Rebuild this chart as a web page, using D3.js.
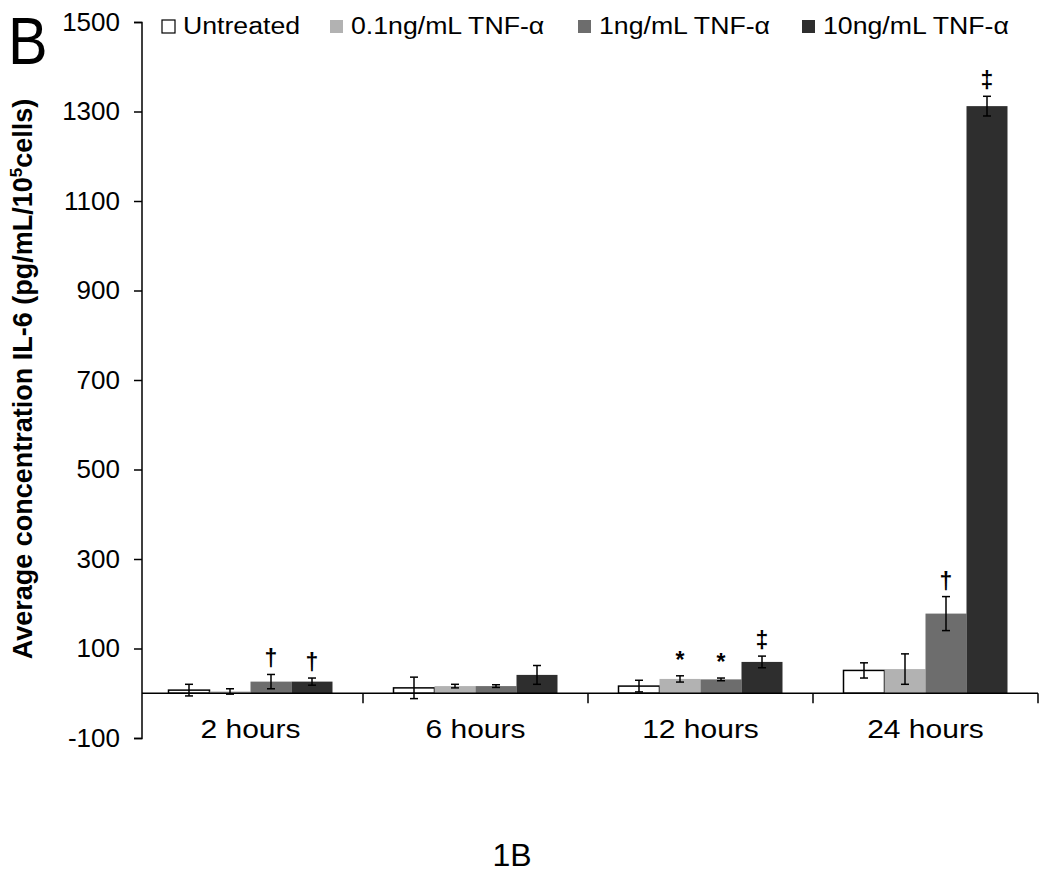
<!DOCTYPE html>
<html>
<head>
<meta charset="utf-8">
<script src="https://cdn.jsdelivr.net/npm/d3@7"></script>
<style>
  body { margin: 0; background: #fff; }
  text { font-family: "Liberation Sans", Arial, sans-serif; }
</style>
</head>
<body>
<div id="chart"></div>
<script>
const timepoints = ["2 hours", "6 hours", "12 hours", "24 hours"];
const series = ["Untreated", "0.1ng/mL TNF-α", "1ng/mL TNF-α", "10ng/mL TNF-α"];
const colors = ["#ffffff", "#b2b2b2", "#6d6d6d", "#2e2e2e"];

// mean values, one list per treatment (same order as timepoints)
const untreated = [7, 12, 16, 51];
const tnf01 = [4, 16, 32, 54];
const tnf1 = [26, 16, 31, 178];
const tnf10 = [26, 41, 70, 1312];

// error bars
const untreatedErr = [13, 24, 13, 17];
const tnf01Err = [6, 4, 7, 34];
const tnf1Err = [16, 3, 3, 38];
const tnf10Err = [8, 21, 13, 22];

// significance marks
const marks = [
  ["", "", "†", "†"],
  ["", "", "", ""],
  ["", "*", "*", "‡"],
  ["", "", "†", "‡"],
];

const yTicks = [-100, 100, 300, 500, 700, 900, 1100, 1300, 1500];

const means = [untreated, tnf01, tnf1, tnf10];
const errs = [untreatedErr, tnf01Err, tnf1Err, tnf10Err];

const width = 1050, height = 882;
const svg = d3.select("#chart").append("svg")
  .attr("width", width).attr("height", height);

const y = d3.scaleLinear().domain([-100, 1500]).range([738, 22]);
const x = d3.scaleBand().domain(timepoints).range([138, 1038]);
const xInner = d3.scaleBand().domain(series).range([-82, 82]);

// bars
const groups = svg.selectAll(".group")
  .data(timepoints)
  .enter()
  .append("g")
  .attr("class", "group")
  .attr("transform", (d) => `translate(${x(d) + x.bandwidth() / 2},0)`);

const barData = (t, ti) => series.map((s, si) => ({
  s, si, v: means[si][ti], e: errs[si][ti], m: marks[ti][si],
}));

const bars = groups.selectAll(".bar")
  .data((t, ti) => barData(t, ti))
  .enter()
  .append("g")
  .attr("class", "bar");

bars.append("rect")
  .attr("x", (d) => xInner(d.s))
  .attr("y", (d) => y(d.v))
  .attr("width", xInner.bandwidth())
  .attr("height", (d) => y(0) - y(d.v))
  .attr("fill", (d) => colors[d.si])
  .attr("stroke", (d) => d.si === 0 ? "#000" : "none")
  .attr("stroke-width", 1.5);

// error bars
const cx = (d) => xInner(d.s) + xInner.bandwidth() / 2;
bars.append("line")
  .attr("x1", cx).attr("x2", cx)
  .attr("y1", (d) => y(d.v + d.e)).attr("y2", (d) => y(d.v - d.e))
  .attr("stroke", "#000").attr("stroke-width", 1.5);
[1, -1].forEach((sgn) => {
  bars.append("line")
    .attr("x1", (d) => cx(d) - 4).attr("x2", (d) => cx(d) + 4)
    .attr("y1", (d) => y(d.v + sgn * d.e)).attr("y2", (d) => y(d.v + sgn * d.e))
    .attr("stroke", "#000").attr("stroke-width", 1.5);
});

bars.filter((d) => d.m)
  .append("text")
  .attr("x", cx)
  .attr("y", (d) => y(d.v + d.e) - 8)
  .attr("text-anchor", "middle")
  .attr("font-size", 23)
  .attr("font-weight", "bold")
  .text((d) => d.m);

// y axis
const yAxis = d3.axisLeft(y)
  .tickValues(yTicks)
  .tickFormat((d) => String(d))
  .tickSize(8)
  .tickPadding(14);
svg.append("g")
  .attr("transform", "translate(142,0)")
  .call(yAxis)
  .call((g) => g.select(".domain").attr("d", "M-8,22.5H0V738.5H-8").attr("stroke-width", 1.5))
  .call((g) => g.selectAll(".tick line").attr("stroke-width", 1.5))
  .call((g) => g.selectAll(".tick text")
    .attr("font-size", 26)
    .attr("font-family", "Liberation Sans, Arial, sans-serif")
    .attr("fill", "#000"));

// x axis along zero
const xg = svg.append("g")
  .attr("transform", `translate(0,${y(0)})`);
xg.append("line")
  .attr("x1", 142).attr("x2", 1038)
  .attr("stroke", "#000").attr("stroke-width", 1.5);
xg.selectAll(".sep")
  .data(timepoints)
  .enter()
  .append("line")
  .attr("x1", (d) => x(d) + x.bandwidth()).attr("x2", (d) => x(d) + x.bandwidth())
  .attr("y1", 0).attr("y2", 10)
  .attr("stroke", "#000").attr("stroke-width", 1.5);

svg.selectAll(".cat")
  .data(timepoints)
  .enter()
  .append("text")
  .attr("class", "cat")
  .attr("text-anchor", "middle")
  .attr("transform", (d) => `translate(${x(d) + x.bandwidth() / 2},738) scale(1.2,1)`)
  .attr("font-size", 25)
  .text((d) => d);

// y title
const yTitle = svg.append("text")
  .attr("transform", "translate(32,379) rotate(-90)")
  .attr("text-anchor", "middle")
  .attr("font-size", 27)
  .attr("font-weight", "bold");
yTitle.append("tspan").text("Average concentration IL-6 (pg/mL/10");
yTitle.append("tspan").attr("font-size", 17).attr("dy", -10).text("5");
yTitle.append("tspan").attr("dy", 10).text("cells)");

// legend
const legendX = [162, 330, 578, 802];
const legend = svg.selectAll(".legend")
  .data(series)
  .enter()
  .append("g")
  .attr("class", "legend")
  .attr("transform", (d, i) => `translate(${legendX[i]},20)`);
legend.append("rect")
  .attr("width", 13).attr("height", 13)
  .attr("fill", (d, i) => colors[i])
  .attr("stroke", (d, i) => i === 0 ? "#000" : "none")
  .attr("stroke-width", 1.2);
legend.append("text")
  .attr("transform", "translate(21,14) scale(1.16,1)")
  .attr("font-size", 23)
  .text((d) => d);

// panel letters
svg.append("text")
  .attr("transform", "translate(8,64) scale(0.9,1)")
  .attr("font-size", 66)
  .text("B");
svg.append("text")
  .attr("x", 512).attr("y", 866)
  .attr("text-anchor", "middle")
  .attr("font-size", 32)
  .attr("font-family", "Noto Sans, Open Sans, sans-serif")
  .text("1B");
</script>
</body>
</html>
